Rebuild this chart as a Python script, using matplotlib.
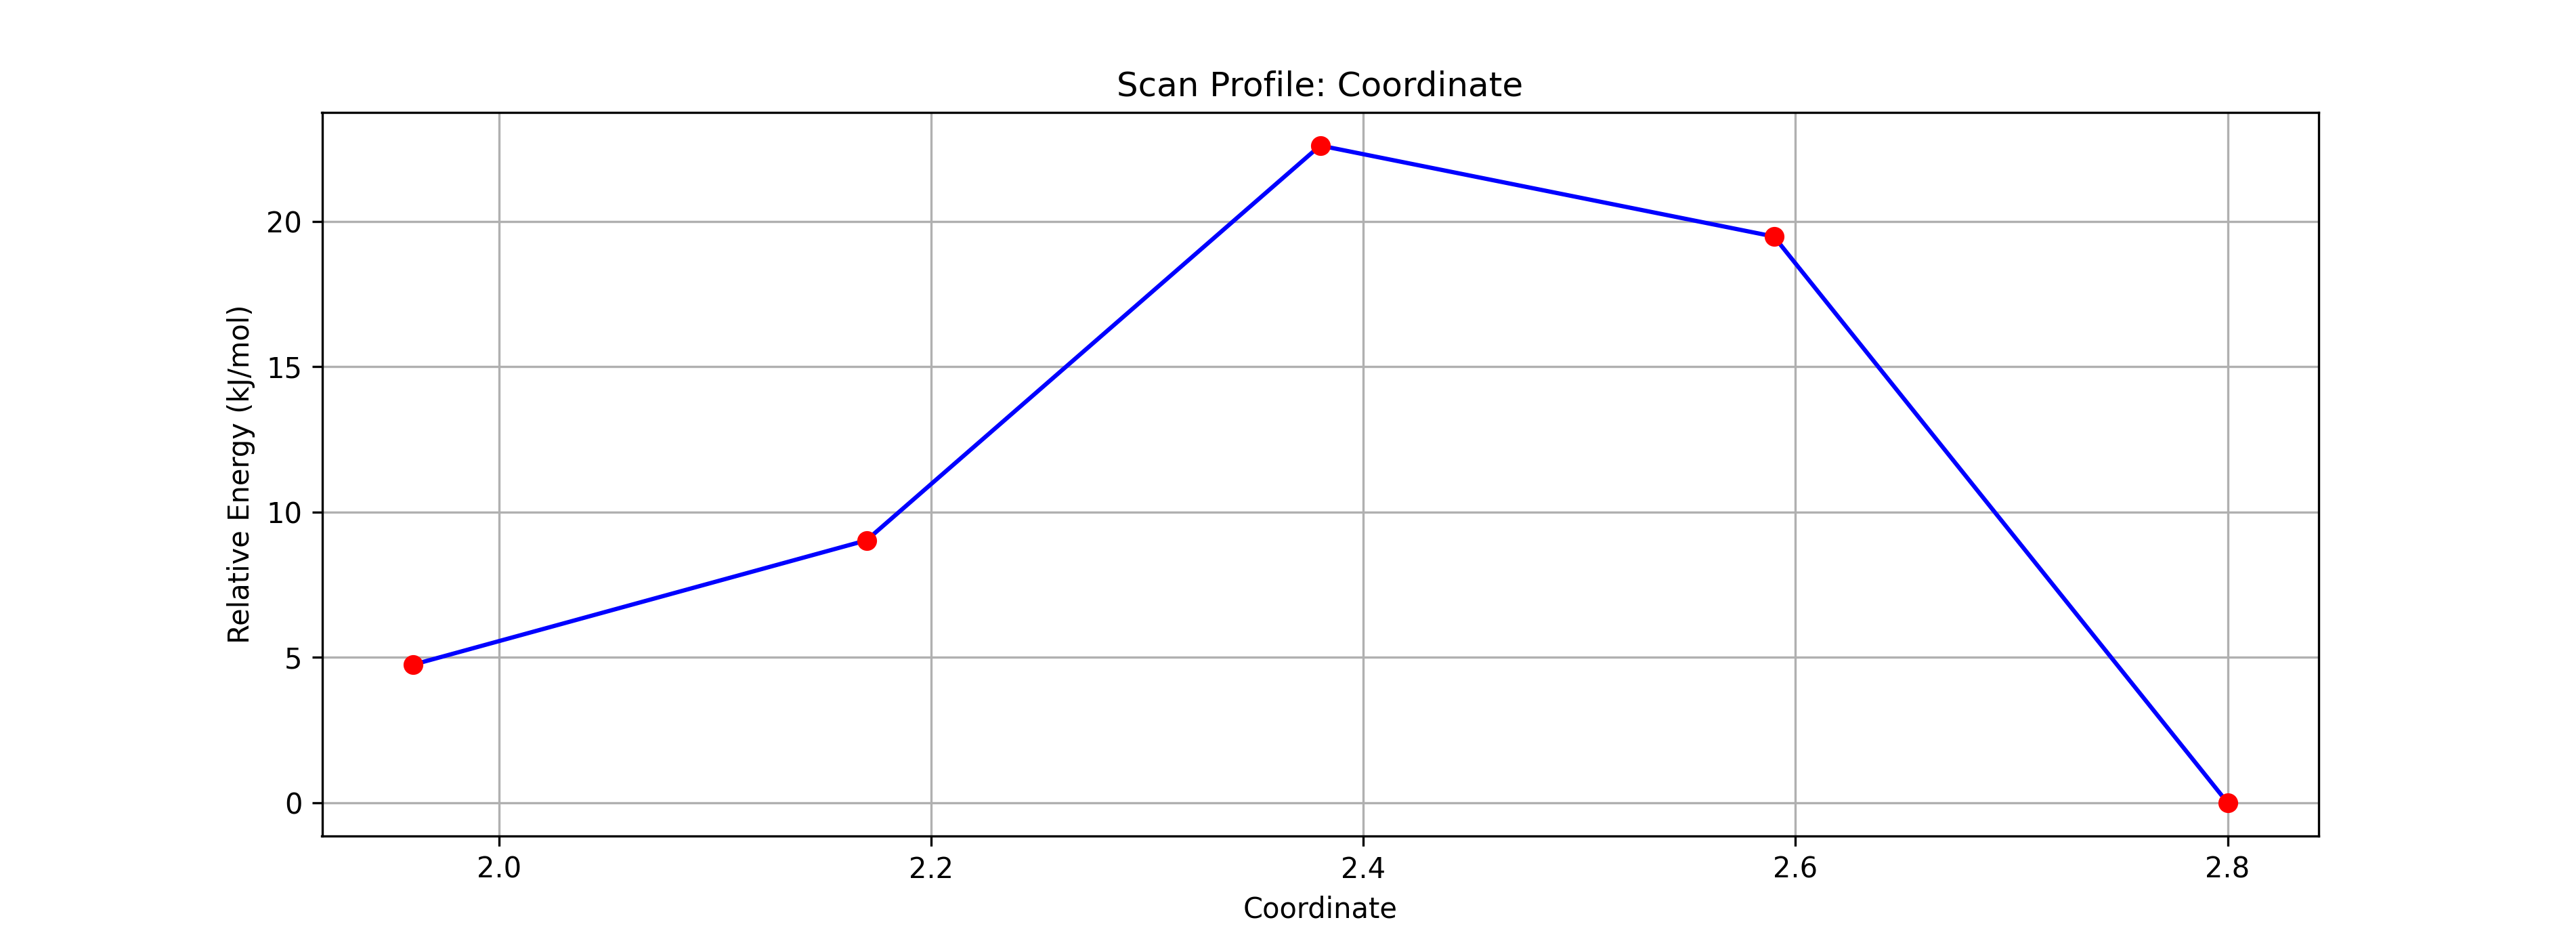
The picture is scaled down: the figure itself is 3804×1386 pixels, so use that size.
import matplotlib
matplotlib.use("Agg")
import matplotlib.pyplot as plt

coordinate = [1.96, 2.17, 2.38, 2.59, 2.80]
energy = [4.75, 9.03, 22.61, 19.48, 0.0]

fig, ax = plt.subplots(figsize=(12.68, 4.62), dpi=300)
ax.plot(coordinate, energy, 'b-')
ax.plot(coordinate, energy, 'ro')
ax.set_title("Scan Profile: Coordinate")
ax.set_xlabel("Coordinate")
ax.set_ylabel("Relative Energy (kJ/mol)")
ax.grid(True)
fig.savefig("out.png", dpi=300)
